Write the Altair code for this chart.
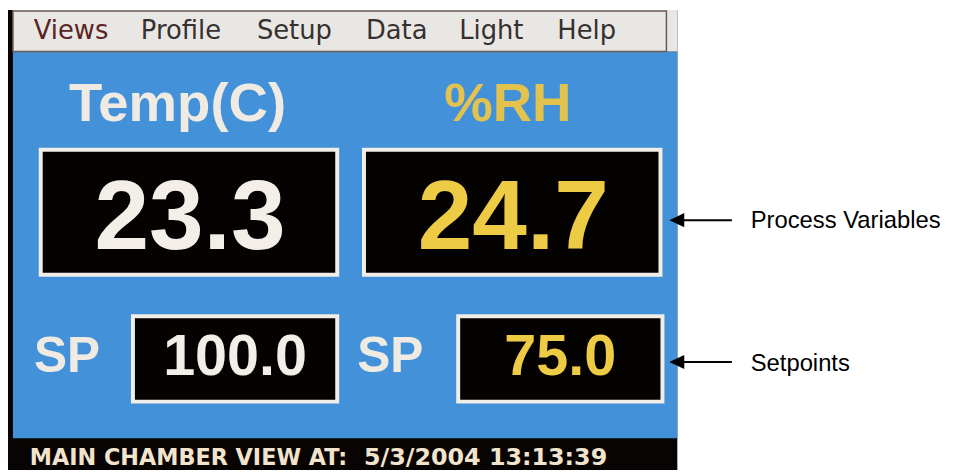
import altair as alt
import pandas as pd

# ---------------- data shown on the controller screen ----------------
menu_items = ["Views", "Profile", "Setup", "Data", "Light", "Help"]
channel_names = ["Temp(C)", "%RH"]
process_values = [23.3, 24.7]
setpoint_values = [100.0, 75.0]
setpoint_tag = "SP"
status_label = "MAIN CHAMBER VIEW AT:"
status_stamp = "5/3/2004 13:13:39"
callout_labels = ["Process Variables", "Setpoints"]

# ---------------- layout (image pixel geometry) ----------------
W, H = 960, 472
menu_left = [34, 142, 259, 369, 463, 562]
menu_colors = ["#5a2424", "#363030", "#363030", "#363030", "#363030", "#363030"]
header_cx = [179, 512]
header_colors = ["#efebe3", "#e4c24e"]
value_colors = ["#f3efe8", "#eecb45"]
pv_box = [(39, 342), (365, 668)]
pv_y = (147, 277)
sp_box = [(132, 342), (460, 670)]
sp_y = (315, 405)
sp_tag_cx = [67.5, 393.5]
callout_y = [220, 363]

BLUE = "#4391d9"
xs = alt.Scale(domain=[8, W], nice=False, zero=False)
ys = alt.Scale(domain=[8, H], nice=False, zero=False, reverse=True)
X = alt.X("x:Q", scale=xs, axis=None)
Y = alt.Y("y:Q", scale=ys, axis=None)
X2 = alt.X2("x2:Q")
Y2 = alt.Y2("y2:Q")

# rectangles (screen panels)
rects = [
    dict(x=8, x2=683, y=8, y2=H, fill="#080404"),
    dict(x=13, x2=683, y=50, y2=440, fill=BLUE),
    dict(x=13, x2=683, y=8, y2=50, fill="#e9e7e4"),
]
for (a, b) in pv_box:
    rects.append(dict(x=a, x2=b, y=pv_y[0], y2=pv_y[1], fill="#f1ede7"))
    rects.append(dict(x=a + 4, x2=b - 4, y=pv_y[0] + 4, y2=pv_y[1] - 4, fill="#050202"))
for (a, b) in sp_box:
    rects.append(dict(x=a, x2=b, y=sp_y[0], y2=sp_y[1], fill="#f1ede7"))
    rects.append(dict(x=a + 4, x2=b - 4, y=sp_y[0] + 4, y2=sp_y[1] - 4, fill="#050202"))
rect_df = pd.DataFrame(rects)
rect_layer = alt.Chart(rect_df).mark_rect().encode(
    x=X, x2=X2, y=Y, y2=Y2, color=alt.Color("fill:N", scale=None)
)

menu_frame = alt.Chart(pd.DataFrame([dict(x=13, x2=672, y=9, y2=50)])).mark_rect(
    fillOpacity=0, stroke="#6c5a55", strokeWidth=1.5
).encode(x=X, x2=X2, y=Y, y2=Y2)


def text_layer(df, size, font, weight, align, color=None):
    kw = dict(fontSize=size, font=font, fontWeight=weight, align=align, baseline="alphabetic")
    enc = dict(x=X, y=Y, text="t:N")
    if color is None:
        enc["color"] = alt.Color("c:N", scale=None)
    else:
        kw["color"] = color
    return alt.Chart(df).mark_text(**kw).encode(**enc)


menu_df = pd.DataFrame(dict(t=menu_items, x=menu_left, y=[37] * 6, c=menu_colors))
menu_text = text_layer(menu_df, 26, "DejaVu Sans", "normal", "left")

head_df = pd.DataFrame(dict(t=channel_names, x=header_cx, y=[120, 120], c=header_colors))
head_text = text_layer(head_df, 55, "Liberation Sans", "bold", "center")

pv_df = pd.DataFrame(dict(
    t=[f"{v:.1f}" for v in process_values],
    x=[(a + b) / 2 + 1 for a, b in pv_box], y=[249, 249], c=value_colors))
pv_text = text_layer(pv_df, 99, "Liberation Sans", "bold", "center")

sp_df = pd.DataFrame(dict(
    t=[f"{v:.1f}" for v in setpoint_values],
    x=[(a + b) / 2 for a, b in sp_box], y=[376, 376], c=value_colors))
sp_text = text_layer(sp_df, 58, "Liberation Sans", "bold", "center")

tag_df = pd.DataFrame(dict(t=[setpoint_tag] * 2, x=sp_tag_cx, y=[373, 373]))
tag_text = text_layer(tag_df, 50, "Liberation Sans", "bold", "center", color="#efebe3")

status_df = pd.DataFrame(dict(t=[status_label, status_stamp], x=[30, 367], y=[467, 467]))
status_text = alt.layer(
    text_layer(status_df.iloc[[0]], 22.5, "DejaVu Sans", "bold", "left", color="#f2e4cc"),
    text_layer(status_df.iloc[[1]], 24, "DejaVu Sans", "bold", "left", color="#f2e4cc"),
)

# callout arrows
arrow_df = pd.DataFrame(dict(x=[689] * 2, x2=[738] * 2, y=callout_y))
arrow_lines = alt.Chart(arrow_df).mark_rule(color="#000000", strokeWidth=2).encode(
    x=X, x2=X2, y=Y)
head_df2 = pd.DataFrame(dict(x=[682.5] * 2, y=callout_y))
arrow_heads = alt.Chart(head_df2).mark_point(
    shape="M -1 0 L 1 -0.95 L 1 0.95 Z", filled=True, color="#000000", opacity=1, size=225
).encode(x=X, y=Y)
call_df = pd.DataFrame(dict(t=callout_labels, x=[757, 757], y=[228, 372]))
call_text = text_layer(call_df, 24, "Liberation Sans", "normal", "left", color="#000000")

chart = alt.layer(
    rect_layer, menu_frame, menu_text, head_text, pv_text, sp_text, tag_text,
    status_text, arrow_lines, arrow_heads, call_text
).properties(
    width=W - 8, height=H - 8, padding=0, background="#ffffff",
    autosize=alt.AutoSizeParams(type="none")
).configure_view(strokeWidth=0)

chart.save("out.html", embed_options={"renderer": "svg", "actions": False})
